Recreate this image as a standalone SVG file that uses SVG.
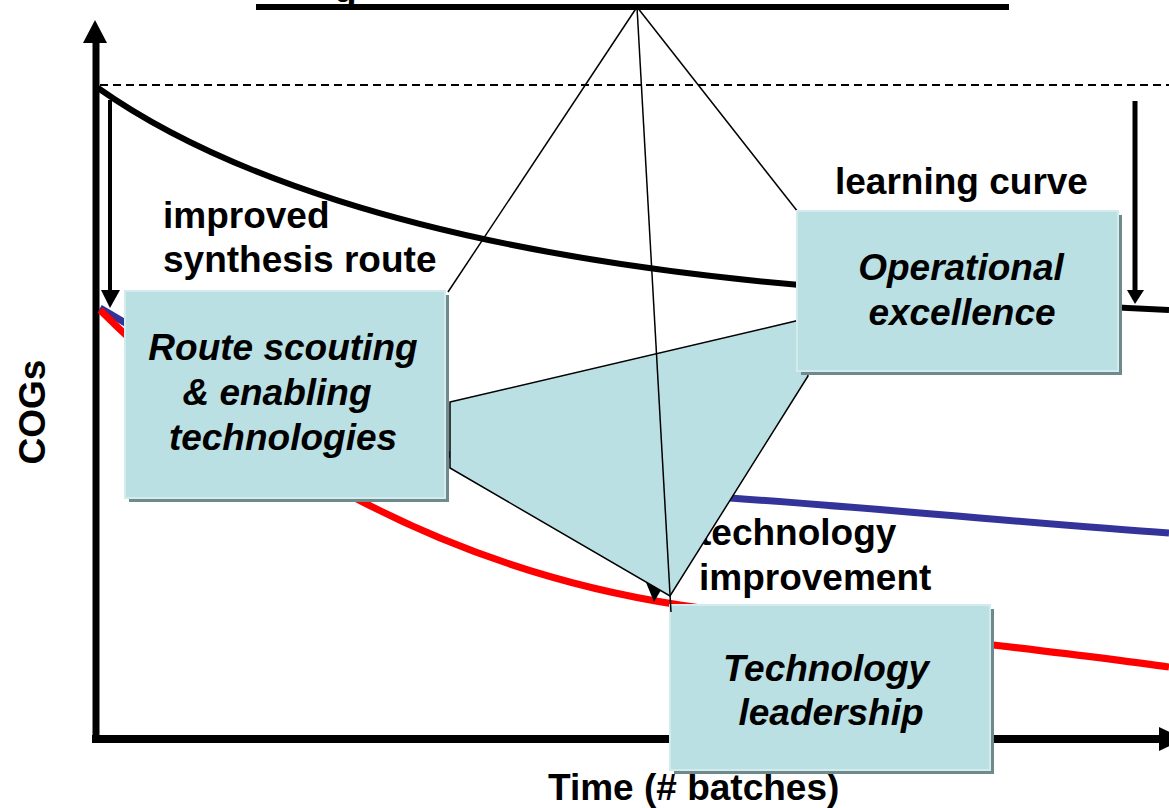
<svg xmlns="http://www.w3.org/2000/svg" width="1169" height="808" viewBox="0 0 1169 808">
<style>
.lbl{font-family:"Liberation Sans",Arial,sans-serif;font-weight:bold;font-size:37px;fill:#000}
.box{fill:#BAE0E3;stroke:#D3EBED;stroke-width:2}
.shd{fill:#6F8A8D}
.btx{font-family:"Liberation Sans",Arial,sans-serif;font-weight:bold;font-style:italic;font-size:37px;fill:#000;text-anchor:middle}
.thin{stroke:#000;stroke-width:1.5;fill:none}
</style>
<rect width="1169" height="808" fill="#fff"/>
<text class="lbl" x="334" y="2">g</text>
<g id="connectors">
<line x1="256" y1="7" x2="1009" y2="7" stroke="#000" stroke-width="6"/>
<line x1="96" y1="742" x2="96" y2="40" stroke="#000" stroke-width="7"/>
<polygon points="83,43 107,43 95,20" fill="#000"/>
<line x1="92" y1="739" x2="1162" y2="739" stroke="#000" stroke-width="8"/>
<polygon points="1159,727 1159,751 1184,739" fill="#000"/>
<line x1="100" y1="85" x2="1169" y2="85" stroke="#000" stroke-width="2" stroke-dasharray="8,5"/>
<path d="M98,88 C200,160 400,250 800,285 C950,298 1080,306 1169,310" fill="none" stroke="#000" stroke-width="6"/>
<path d="M100,308 C250,400 450,480 730,498 C900,510 1050,525 1169,533" fill="none" stroke="#333399" stroke-width="7"/>
<path d="M100,310 C250,460 450,570 680,605 C850,630 1050,650 1169,667" fill="none" stroke="#FF0000" stroke-width="7"/>
<line x1="110" y1="100" x2="110" y2="292" stroke="#000" stroke-width="4"/>
<polygon points="101,290 120,290 110,308" fill="#000"/>
<line x1="1135" y1="101" x2="1135" y2="292" stroke="#000" stroke-width="5"/>
<polygon points="1127,290 1144,290 1135,304" fill="#000"/>
<polygon points="645,580 664,585 654,602" fill="#000"/>
</g>
<g id="labels">
<text class="lbl" x="163" y="228">improved</text>
<text class="lbl" x="163" y="272">synthesis route</text>
<text class="lbl" x="835" y="194">learning curve</text>
<text class="lbl" x="699" y="545">technology</text>
<text class="lbl" x="699" y="590">improvement</text>
<text class="lbl" x="548" y="800">Time (# batches)</text>
<text class="lbl" transform="translate(45,412) rotate(-90)" text-anchor="middle">COGs</text>
</g>
<g id="triangle">
<polygon points="450,402 800,320 808,376 670,596 450,468" fill="#BAE0E3" stroke="#000" stroke-width="1.5"/>
</g>
<g id="apex-lines">
<line class="thin" x1="637" y1="7" x2="448" y2="292"/>
<line class="thin" x1="637" y1="7" x2="798" y2="212"/>
</g>
<g id="route">
<rect class="shd" x="129" y="295" width="320" height="207"/>
<rect class="box" x="125" y="291" width="320" height="207"/>
<text class="btx" x="283" y="360">Route scouting</text>
<text class="btx" x="277" y="405">&amp; enabling</text>
<text class="btx" x="283" y="450">technologies</text>
</g>
<g id="operational">
<rect class="shd" x="801" y="215" width="321" height="160"/>
<rect class="box" x="797" y="211" width="321" height="160"/>
<text class="btx" x="961" y="280">Operational</text>
<text class="btx" x="962" y="325">excellence</text>
</g>
<g id="technology">
<rect class="shd" x="674" y="609" width="320" height="165"/>
<rect class="box" x="670" y="605" width="320" height="165"/>
<text class="btx" x="826" y="681">Technology</text>
<text class="btx" x="831" y="725">leadership</text>
</g>
<line class="thin" x1="637" y1="7" x2="671" y2="612"/>
</svg>
